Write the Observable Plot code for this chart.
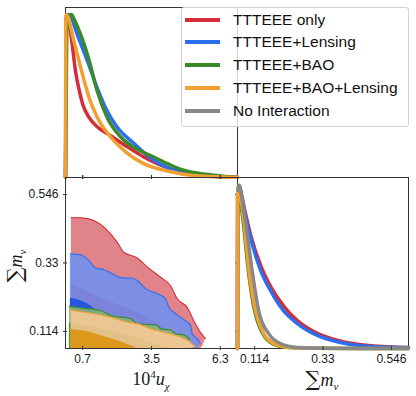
<!DOCTYPE html>
<html>
<head>
<meta charset="utf-8">
<script src="https://cdn.jsdelivr.net/npm/d3@7"></script>
<script src="https://cdn.jsdelivr.net/npm/@observablehq/plot@0.6"></script>
<style>
  html, body { margin: 0; padding: 0; background: #fff; }
  #wrap { position: relative; width: 416px; height: 396px; overflow: hidden;
          font-family: "Liberation Sans", Arial, sans-serif; color: #1a1a1a; }
  #wrap svg { position: absolute; left: 0; top: 0; }
  .lab { position: absolute; white-space: nowrap; font-family: "Liberation Serif", "DejaVu Serif", serif;
         font-size: 18px; color: #1a1a1a; transform: translate(-50%, -50%); line-height: 1; }
  .lab sub, .lab sup { font-size: 11px; line-height: 0; }
  .sum { font-size: 21px; font-family: "DejaVu Serif", serif; }
  .legend { position: absolute; left: 181px; top: 7px; width: 228px; height: 120px; box-sizing: border-box;
            border: 1px solid #d2d2d2; border-radius: 3px; background: rgba(255,255,255,0.8); }
  .sw { position: absolute; height: 4px; width: 35px; left: 185px; }
  .lt { position: absolute; left: 233px; font-size: 15.5px; transform: translateY(-50%); white-space: nowrap; color: #111; }
</style>
</head>
<body>
<div id="wrap"></div>
<script>
// ---------------- data ----------------
const series = ["TTTEEE only", "TTTEEE+Lensing", "TTTEEE+BAO", "TTTEEE+BAO+Lensing", "No Interaction"];
const lineColors = ["#d42c38", "#2c6ef0", "#3b8a2a", "#f0a030", "#888888"];

const uTicks = [0.7, 3.5, 6.3];
const mTicks = [0.114, 0.33, 0.546];
const uDomain = [0, 7];
const mDomain = [0.06, 0.6];

// 1D marginal of 10^4 u_chi : [u, normalized density]
const uRed = [[0,0],[0.04,0.97],[0.08,1.0],[0.14,0.96],[0.27,0.82],[0.4,0.66],[0.55,0.54],[0.7,0.45],[0.95,0.37],[1.3,0.31],[1.8,0.26],[2.5,0.19],[3.2,0.125],[3.9,0.075],[4.7,0.035],[5.5,0.013],[6.3,0.004],[7.0,0.001]];
const uBlue = [[0,0],[0.02,0.9],[0.1,1.0],[0.2,0.99],[0.47,0.88],[0.88,0.72],[1.29,0.55],[1.69,0.41],[2.1,0.31],[2.78,0.21],[3.46,0.12],[4.15,0.06],[4.96,0.025],[6.18,0.006],[7.0,0.001]];
const uGreen = [[0,0],[0.05,0.9],[0.15,0.99],[0.24,1.0],[0.35,0.97],[0.61,0.88],[0.96,0.72],[1.29,0.53],[1.69,0.37],[2.24,0.25],[2.78,0.185],[3.46,0.135],[4.15,0.085],[4.8,0.045],[5.8,0.018],[6.6,0.005],[7.0,0.002]];
const uOrange = [[0,0],[0.01,0.98],[0.03,1.0],[0.34,0.84],[0.61,0.68],[0.96,0.49],[1.29,0.37],[1.83,0.25],[2.51,0.15],[3.18,0.085],[4.15,0.04],[5.2,0.012],[6.6,0.002],[7.0,0.001]];

// 1D marginal of sum m_nu : [m, normalized density]
const mRed = [[0.06,0],[0.0605,0.95],[0.066,1.0],[0.072,0.95],[0.085,0.83],[0.101,0.70],[0.135,0.50],[0.166,0.375],[0.21,0.25],[0.25,0.17],[0.31,0.095],[0.38,0.048],[0.48,0.017],[0.6,0.006]];
const mBlue = [[0.06,0],[0.0605,0.95],[0.066,1.0],[0.072,0.94],[0.085,0.81],[0.101,0.68],[0.133,0.48],[0.164,0.356],[0.206,0.23],[0.249,0.153],[0.312,0.08],[0.385,0.037],[0.48,0.012],[0.6,0.004]];
const mGreen = [[0.06,0],[0.0605,0.95],[0.064,1.0],[0.07,0.9],[0.079,0.76],[0.094,0.48],[0.114,0.23],[0.14,0.09],[0.17,0.03],[0.22,0.006],[0.3,0.001],[0.6,0]];
const mOrange = [[0.06,0],[0.0605,0.96],[0.064,1.0],[0.07,0.93],[0.08,0.785],[0.096,0.48],[0.117,0.23],[0.143,0.09],[0.175,0.03],[0.227,0.006],[0.3,0.001],[0.6,0]];
const mGray = [[0.0615,0.97],[0.065,1.0],[0.072,0.94],[0.085,0.785],[0.106,0.48],[0.127,0.23],[0.159,0.09],[0.196,0.03],[0.249,0.006],[0.32,0.001],[0.6,0]];

// 2D contours: upper boundary [u, sum m_nu] of each filled region (lower bound is the prior edge)
const red95 = [[0.24,0.473],[0.61,0.473],[1.15,0.464],[1.70,0.433],[2.10,0.396],[2.37,0.364],[2.92,0.346],[3.33,0.317],[3.87,0.285],[4.27,0.259],[4.55,0.217],[4.95,0.190],[5.22,0.148],[5.49,0.111],[5.70,0.091]];
const red68 = [[0.24,0.264],[0.6,0.25],[1.23,0.227],[1.83,0.207],[2.59,0.185],[3.3,0.16],[3.8,0.135],[4.3,0.11],[4.8,0.08],[5.0,0.065]];
const blue95 = [[0.20,0.359],[0.61,0.356],[0.95,0.338],[1.22,0.314],[1.56,0.309],[1.90,0.296],[2.31,0.283],[2.71,0.282],[2.92,0.275],[3.26,0.249],[3.73,0.233],[4.07,0.217],[4.21,0.190],[4.48,0.170],[4.81,0.151],[5.09,0.133],[5.16,0.106],[5.36,0.091],[5.49,0.075]];
const blue68 = [[0.20,0.219],[0.5,0.214],[0.8,0.205],[1.1,0.19],[1.4,0.172],[2.0,0.15],[2.8,0.125],[3.5,0.1],[4.0,0.08],[4.3,0.062]];
const green95 = [[0.16,0.193],[0.75,0.187],[1.42,0.180],[1.83,0.164],[2.24,0.159],[2.65,0.154],[2.92,0.138],[3.33,0.136],[3.73,0.133],[3.87,0.122],[4.27,0.119],[4.48,0.106],[4.81,0.103],[5.02,0.091],[5.06,0.075]];
const green68 = [[0.16,0.14],[0.8,0.133],[1.5,0.12],[2.3,0.105],[3.0,0.09],[3.6,0.075],[4.0,0.062]];
const orange95 = [[0.22,0.182],[0.47,0.178],[1.15,0.170],[1.83,0.159],[2.51,0.143],[2.92,0.138],[3.46,0.122],[4.14,0.108],[4.68,0.096],[5.09,0.080],[5.29,0.064]];
const orange68 = [[0.22,0.119],[0.75,0.115],[1.42,0.101],[2.10,0.085],[2.65,0.069],[2.9,0.062]];

const fill95 = ["#e1848a", "#6a90f4", "#88b675", "#ffca94"];
const fill68 = ["#d23c46", "#184ede", "#3c8c2c", "#db9007"];
const fillAlpha = [1, 0.85, 0.85, 0.85];

// ---------------- drawing ----------------
const W = 416, H = 396;
const frameColor = "#333";
const wrap = document.getElementById("wrap");
const baseStyle = {background: "transparent", fontFamily: "Liberation Sans, Arial, sans-serif", fontSize: "12px", color: "#1a1a1a"};

function regionData(pts) {
  const n = pts.length;
  return pts.map((p, i) => ({u: p[0], top: p[1], bot: i === n - 1 ? p[1] : mDomain[0]}));
}

// top-left: 1D u_chi
const uCurves = [uRed, uBlue, uGreen, uOrange];
const tlH = 170;
wrap.appendChild(Plot.plot({
  width: W, height: H,
  marginLeft: 65, marginRight: 179, marginTop: 7, marginBottom: 219,
  x: {domain: uDomain, axis: null},
  y: {domain: [0, 1.043], axis: null},
  style: baseStyle,
  marks: [
    Plot.frame({stroke: frameColor}),
    ...uCurves.map((c, i) => Plot.line(c, {x: d => d[0], y: d => d[1], stroke: lineColors[i], strokeWidth: 3.5, curve: "monotone-x", strokeLinejoin: "round"})),
    Plot.ruleX(uTicks, {x: d => d, stroke: frameColor, insetTop: tlH - 2, insetBottom: -2})
  ]
}));

// bottom-left: 2D contours
const c95 = [red95, blue95, green95, orange95];
const c68 = [red68, blue68, green68, orange68];
const blH = 171, blW = 172;
const contourMarks = [];
c95.forEach((reg, i) => {
  contourMarks.push(Plot.areaY(regionData(reg), {x: "u", y1: "bot", y2: "top", fill: fill95[i], fillOpacity: fillAlpha[i], curve: "monotone-x", clip: true}));
  contourMarks.push(Plot.areaY(regionData(c68[i]), {x: "u", y1: "bot", y2: "top", fill: fill68[i], fillOpacity: fillAlpha[i], curve: "monotone-x", clip: true}));
  contourMarks.push(Plot.line(reg, {x: d => d[0], y: d => d[1], stroke: lineColors[i], strokeWidth: 1.1, curve: "monotone-x"}));
});
wrap.appendChild(Plot.plot({
  width: W, height: H,
  marginLeft: 65, marginRight: 179, marginTop: 177, marginBottom: 48,
  x: {domain: uDomain, axis: null},
  y: {domain: mDomain, axis: null},
  style: baseStyle,
  marks: [
    ...contourMarks,
    Plot.frame({stroke: frameColor}),
    Plot.ruleX(uTicks, {x: d => d, stroke: frameColor, insetTop: blH - 2, insetBottom: -2}),
    Plot.ruleX(uTicks, {x: d => d, stroke: frameColor, insetTop: -2, insetBottom: blH - 2}),
    Plot.ruleY(mTicks, {y: d => d, stroke: frameColor, insetLeft: -2, insetRight: blW - 2}),
    Plot.ruleY(mTicks, {y: d => d, stroke: frameColor, insetLeft: blW - 2, insetRight: -2}),
    Plot.axisX(uTicks, {tickSize: 0, tickPadding: 6, tickFormat: d => String(d), label: null}),
    Plot.axisY(mTicks, {tickSize: 0, tickPadding: 7, tickFormat: d => String(d), label: null})
  ]
}));

// bottom-right: 1D sum m_nu
const mCurves = [mRed, mBlue, mGreen, mOrange, mGray];
const brH = 171;
wrap.appendChild(Plot.plot({
  width: W, height: H,
  marginLeft: 237, marginRight: 8, marginTop: 177, marginBottom: 48,
  x: {domain: mDomain, axis: null},
  y: {domain: [0, 1.049], axis: null},
  style: baseStyle,
  marks: [
    Plot.frame({stroke: frameColor}),
    ...mCurves.map((c, i) => Plot.line(c, {x: d => d[0], y: d => d[1], stroke: lineColors[i], strokeWidth: 3.5, curve: "monotone-x", strokeLinejoin: "round"})),
    Plot.ruleX(mTicks, {x: d => d, stroke: frameColor, insetTop: brH - 2, insetBottom: -2}),
    Plot.axisX(mTicks, {tickSize: 0, tickPadding: 6, tickFormat: d => String(d), label: null})
  ]
}));

// axis labels
function addLabel(html, x, y, rotate) {
  const el = document.createElement("div");
  el.className = "lab";
  el.innerHTML = html;
  el.style.left = x + "px";
  el.style.top = y + "px";
  if (rotate) el.style.transform = "translate(-50%, -50%) rotate(-90deg)";
  wrap.appendChild(el);
}
addLabel("10<sup>4</sup><i>u</i><sub><i>χ</i></sub>", 151, 379, false);
addLabel("<span class='sum'>∑</span><i>m</i><sub><i>ν</i></sub>", 15, 266, true);
addLabel("<span class='sum'>∑</span><i>m</i><sub><i>ν</i></sub>", 322, 379, false);

// legend
const lg = document.createElement("div");
lg.className = "legend";
wrap.appendChild(lg);
series.forEach((s, i) => {
  const cy = 19.7 + i * 22.75;
  const sw = document.createElement("div");
  sw.className = "sw";
  sw.style.top = (cy - 2) + "px";
  sw.style.background = lineColors[i];
  wrap.appendChild(sw);
  const t = document.createElement("div");
  t.className = "lt";
  t.style.top = cy + "px";
  t.textContent = s;
  wrap.appendChild(t);
});
</script>
</body>
</html>
